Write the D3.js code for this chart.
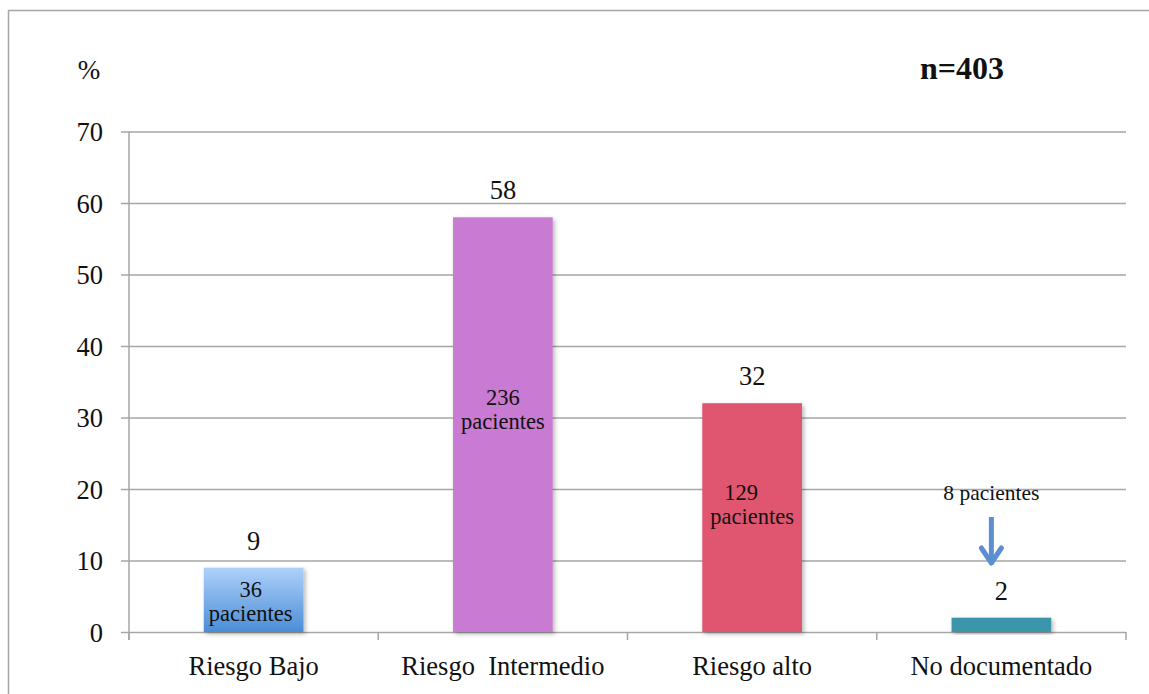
<!DOCTYPE html>
<html>
<head>
<meta charset="utf-8">
<script src="https://cdn.jsdelivr.net/npm/d3@7"></script>
<style>
  html, body { margin: 0; padding: 0; background: #fff; }
  svg { display: block; }
  text { font-family: "Liberation Serif", "Times New Roman", serif; fill: #111; }
</style>
</head>
<body>
<svg id="chart" width="1149" height="694"></svg>
<script>
// Distribución de pacientes por nivel de riesgo (n=403)
const categories = ["Riesgo Bajo", "Riesgo  Intermedio", "Riesgo alto", "No documentado"];
const percentages = [9, 58, 32, 2];
const patients = [36, 236, 129, 8];
const yTicks = [0, 10, 20, 30, 40, 50, 60, 70];
const barColors = ["url(#gradBajo)", "#c97ad2", "#e0566f", "#3b96ab"];

const W = 1149, H = 694;
const margin = { left: 129, right: 23, top: 131.5, bottom: 62 };

const svg = d3.select("#chart");
const defs = svg.append("defs");

const grad = defs.append("linearGradient")
  .attr("id", "gradBajo").attr("x1", 0).attr("y1", 0).attr("x2", 0).attr("y2", 1);
grad.append("stop").attr("offset", "0%").attr("stop-color", "#afd1fb");
grad.append("stop").attr("offset", "100%").attr("stop-color", "#4a8dd6");

const shadow = defs.append("filter").attr("id", "barShadow")
  .attr("x", "-10%").attr("y", "-10%").attr("width", "130%").attr("height", "130%");
shadow.append("feDropShadow").attr("dx", 2).attr("dy", 2)
  .attr("stdDeviation", 2).attr("flood-color", "#000").attr("flood-opacity", 0.28);

// Outer frame of the chart area
svg.append("rect")
  .attr("x", 8.5).attr("y", 10.5).attr("width", W + 20).attr("height", H + 20)
  .attr("fill", "none").attr("stroke", "#a6a6a6").attr("stroke-width", 1.5);

const x = d3.scaleBand()
  .domain(categories)
  .range([margin.left, W - margin.right])
  .paddingInner(0.6)
  .paddingOuter(0.3);

const y = d3.scaleLinear()
  .domain([0, 70])
  .range([H - margin.bottom, margin.top]);

const gridColor = "#a6a6a6";

// Horizontal gridlines with left ticks
const yAxis = d3.axisLeft(y)
  .tickValues(yTicks)
  .tickSize(-(W - margin.right - margin.left))
  .tickSizeOuter(0)
  .tickPadding(26)
  .tickFormat(d3.format("d"));

const gy = svg.append("g")
  .attr("transform", `translate(${margin.left},0)`)
  .call(yAxis);
gy.select(".domain").remove();
gy.selectAll(".tick line")
  .attr("x1", -8)
  .attr("stroke", gridColor).attr("stroke-width", 1.5);
gy.selectAll(".tick text")
  .style("font-size", "26.5px")
  .attr("dy", "0.34em")
  .style("fill", "#111");

// Vertical axis line
svg.append("line")
  .attr("x1", margin.left).attr("x2", margin.left)
  .attr("y1", y(70)).attr("y2", y(0) + 8)
  .attr("stroke", gridColor).attr("stroke-width", 1.5);

// Category separators on the baseline
const step = x.step();
const boundaries = d3.range(categories.length + 1).map(i => margin.left + i * step);
svg.append("g").selectAll("line")
  .data(boundaries)
  .join("line")
  .attr("x1", d => d).attr("x2", d => d)
  .attr("y1", y(0)).attr("y2", y(0) + 8)
  .attr("stroke", gridColor).attr("stroke-width", 1.5);

// Category labels
svg.append("g").selectAll("text")
  .data(categories)
  .join("text")
  .attr("x", d => x(d) + x.bandwidth() / 2)
  .attr("y", 675)
  .attr("text-anchor", "middle")
  .style("font-size", "26.5px")
  .style("white-space", "pre")
  .text(d => d);

// Bars
const data = categories.map((c, i) => ({ cat: c, pct: percentages[i], n: patients[i], color: barColors[i] }));

svg.append("g").selectAll("rect")
  .data(data)
  .join("rect")
  .attr("x", d => x(d.cat))
  .attr("width", x.bandwidth())
  .attr("y", d => y(d.pct))
  .attr("height", d => y(0) - y(d.pct))
  .attr("fill", d => d.color)
  .attr("filter", "url(#barShadow)");

// Percentage labels above bars
svg.append("g").selectAll("text")
  .data(data)
  .join("text")
  .attr("x", d => x(d.cat) + x.bandwidth() / 2)
  .attr("y", d => y(d.pct) - 18)
  .attr("text-anchor", "middle")
  .style("font-size", "26.5px")
  .text(d => d.pct);

// Patient count labels placed inside the first three bars
const inner = [
  { i: 0, level: 4.9, dx: -3 },
  { i: 1, level: 31.8, dx: 0 },
  { i: 2, level: 18.4, dx: 0 }
];
inner.forEach(o => {
  const d = data[o.i];
  const cx = x(d.cat) + x.bandwidth() / 2 + o.dx;
  const t = svg.append("text")
    .attr("text-anchor", "middle")
    .style("font-size", "22.5px");
  t.append("tspan").attr("x", o.i === 2 ? cx - 11 : cx).attr("y", y(o.level)).text(d.n);
  t.append("tspan").attr("x", cx).attr("dy", 24).text("pacientes");
});

// Callout for the undocumented group
const last = data[3];
const ax = x(last.cat) + x.bandwidth() / 2 - 10;
svg.append("text")
  .attr("x", ax).attr("y", 500)
  .attr("text-anchor", "middle")
  .style("font-size", "21.5px")
  .text(`${last.n} pacientes`);

const arrowColor = "#5b8fd0";
svg.append("line")
  .attr("x1", ax).attr("x2", ax)
  .attr("y1", 517).attr("y2", 562)
  .attr("stroke", arrowColor).attr("stroke-width", 5);
svg.append("path")
  .attr("d", `M${ax - 10},${548} L${ax},${563} L${ax + 10},${548}`)
  .attr("fill", "none").attr("stroke", arrowColor).attr("stroke-width", 5)
  .attr("stroke-linecap", "round").attr("stroke-linejoin", "round");

// Axis unit and sample size
svg.append("text")
  .attr("x", 89).attr("y", 79)
  .attr("text-anchor", "middle")
  .style("font-size", "27px")
  .text("%");

svg.append("text")
  .attr("x", 962).attr("y", 79)
  .attr("text-anchor", "middle")
  .style("font-weight", "bold")
  .style("font-size", "32px")
  .text("n=403");
</script>
</body>
</html>
